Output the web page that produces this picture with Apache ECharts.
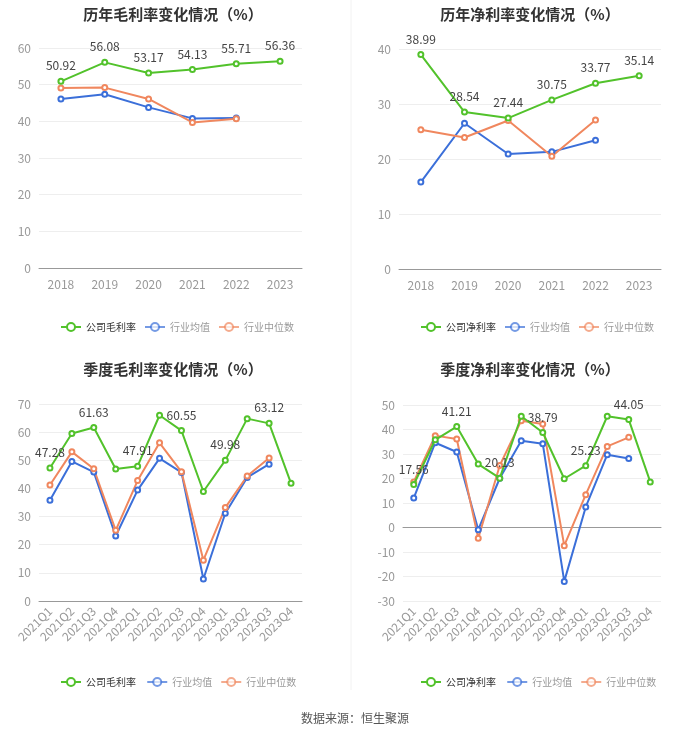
<!DOCTYPE html>
<html><head><meta charset="utf-8">
<script src="https://cdn.jsdelivr.net/npm/echarts@6/dist/echarts.min.js"></script>
<style>html,body{margin:0;padding:0;background:#fff}#c{width:700px;height:733px}</style>
</head><body><div id="c"></div>
<script>
const years = ['2018','2019','2020','2021','2022','2023'];
const quarters = ['2021Q1','2021Q2','2021Q3','2021Q4','2022Q1','2022Q2','2022Q3','2022Q4','2023Q1','2023Q2','2023Q3','2023Q4'];

const annualGross = [50.92, 56.08, 53.17, 54.13, 55.71, 56.36];
const annualGrossMean = [46.1, 47.4, 43.8, 40.8, 40.9];
const annualGrossMedian = [49.1, 49.2, 46.1, 39.7, 40.7];

const annualNet = [38.99, 28.54, 27.44, 30.75, 33.77, 35.14];
const annualNetMean = [15.8, 26.5, 20.9, 21.3, 23.4];
const annualNetMedian = [25.3, 23.9, 27.0, 20.5, 27.1];

const qGross = [47.28, 59.5, 61.63, 46.9, 47.91, 66.0, 60.55, 38.9, 49.98, 64.8, 63.12, 41.8];
const qGrossMean = [35.8, 49.6, 45.8, 23.1, 39.4, 50.7, 45.7, 7.8, 31.2, 43.9, 48.6];
const qGrossMedian = [41.2, 53.0, 47.0, 25.1, 42.8, 56.2, 45.9, 14.5, 33.2, 44.4, 50.8];

const qNet = [17.56, 35.8, 41.21, 25.9, 20.13, 45.4, 38.79, 19.9, 25.23, 45.4, 44.05, 18.6];
const qNetMean = [12.0, 34.6, 30.8, -0.9, 20.1, 35.4, 34.2, -22.0, 8.4, 29.7, 28.2];
const qNetMedian = [18.6, 37.5, 36.1, -4.4, 25.3, 43.6, 42.2, -7.4, 13.4, 33.1, 36.8];

const titles = ['历年毛利率变化情况（%）','历年净利率变化情况（%）','季度毛利率变化情况（%）','季度净利率变化情况（%）'];
const nameGross = '公司毛利率', nameNet = '公司净利率', nameMean = '行业均值', nameMedian = '行业中位数';
const source = '数据来源：恒生聚源';

const GREEN = '#52c22b', BLUE = '#3b6fd9', ORANGE = '#f0875e';
const FONT = '"Noto Sans CJK SC", "Noto Sans", sans-serif';

const grids = [
  {left:39, top:48, width:263, height:220},
  {left:399, top:49, width:262, height:220},
  {left:39, top:404, width:263, height:197},
  {left:403, top:405, width:258, height:196}
];
const yCfg = [{min:0,max:60},{min:0,max:40},{min:0,max:70},{min:-30,max:50}];

function line(name, data, gi, color, labelFn) {
  return {
    name, type:'line', xAxisIndex:gi, yAxisIndex:gi,
    data: data.map((v,i)=>({value:v, label:{show: labelFn ? labelFn(i) : false}})),
    symbol:'emptyCircle', symbolSize:5, showSymbol:true,
    lineStyle:{width:2, color}, itemStyle:{color, borderWidth:1.5},
    label:{position:'top', color:'#444', fontSize:12, fontFamily:FONT, distance:6},
    z: color===GREEN ? 3 : 2
  };
}

const option = {
  animation:false,
  textStyle:{fontFamily:FONT},
  title: [
    {text:titles[0], left:168, top:2, textAlign:'center'},
    {text:titles[1], left:525, top:2, textAlign:'center'},
    {text:titles[2], left:168, top:357, textAlign:'center'},
    {text:titles[3], left:525, top:357, textAlign:'center'},
    {text:source, left:350, top:707, textAlign:'center', textStyle:{fontSize:12, fontWeight:'normal', color:'#555'}}
  ].map((t,i)=> i<4 ? Object.assign(t,{textStyle:{fontSize:15, fontWeight:'bold', color:'#333', fontFamily:FONT}}) : t),
  legend: [
    [nameGross, 0, 55, 317], [nameNet, 1, 415, 317], [nameGross, 2, 55, 672], [nameNet, 3, 415, 672]
  ].map(([n, gi, l, t]) => ({
    left:l, top:t, itemWidth:20, itemHeight:10, itemGap:8,
    textStyle:{fontSize:10, color:'#333', fontFamily:FONT},
    data:[
      {name:n + (gi>=2?' ':''), textStyle:{color:'#333'}},
      {name:nameMean + '\u200b'.repeat(gi), textStyle:{color:'#999'}, itemStyle:{opacity:0.7}, lineStyle:{opacity:0.7}},
      {name:nameMedian + '\u200b'.repeat(gi), textStyle:{color:'#999'}, itemStyle:{opacity:0.7}, lineStyle:{opacity:0.7}}
    ]
  })),
  grid: grids,
  xAxis: grids.map((g,i)=>({
    type:'category', gridIndex:i, data: i<2 ? years : quarters, boundaryGap:true,
    axisLine:{lineStyle:{color:'#999'}}, axisTick:{alignWithLabel:true, lineStyle:{color:'#999'}},
    axisLabel:{color:'#999', fontSize:12, rotate: i<2 ? 0 : 45, interval:0, margin: i<2 ? 10 : 8}
  })),
  yAxis: grids.map((g,i)=>({
    type:'value', gridIndex:i, min:yCfg[i].min, max:yCfg[i].max, interval:10,
    axisLine:{show:false}, axisTick:{show:false},
    axisLabel:{color:'#999', fontSize:12, margin:8},
    splitLine:{lineStyle:{color:'#eee'}}
  })),
  graphic: [
    {type:'line', shape:{x1:351, y1:0, x2:351, y2:690}, style:{stroke:'#f2f2f2', lineWidth:1}}
  ],
  series: [
    line(nameGross, annualGross, 0, GREEN, ()=>true),
    line(nameMean, annualGrossMean, 0, BLUE),
    line(nameMedian, annualGrossMedian, 0, ORANGE),
    line(nameNet, annualNet, 1, GREEN, ()=>true),
    line(nameMean+'\u200b', annualNetMean, 1, BLUE),
    line(nameMedian+'\u200b', annualNetMedian, 1, ORANGE),
    line(nameGross+' ', qGross, 2, GREEN, i=>i%2===0),
    line(nameMean+'\u200b\u200b', qGrossMean, 2, BLUE),
    line(nameMedian+'\u200b\u200b', qGrossMedian, 2, ORANGE),
    line(nameNet+' ', qNet, 3, GREEN, i=>i%2===0),
    line(nameMean+'\u200b\u200b\u200b', qNetMean, 3, BLUE),
    line(nameMedian+'\u200b\u200b\u200b', qNetMedian, 3, ORANGE)
  ]
};
echarts.init(document.getElementById('c')).setOption(option);
</script></body></html>
